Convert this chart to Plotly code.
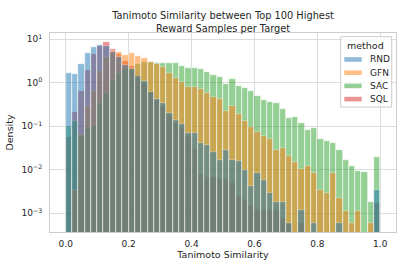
import plotly.graph_objects as go

# ---- data (density per bin, 50 bins of width 0.02 on [0, 1]) ----
BIN_START = 0.0
BIN_WIDTH = 0.02
methods = ["RND", "GFN", "SAC", "SQL"]

rnd = [1.65, 1.6, 2.7, 4.8, 6.6, 7.5, 6.9, 5.1, 4.0, 2.6,
       2.1, 1.4, 1.08, 0.6, 0.43, 0.35, 0.2, 0.14, 0.115, 0.07,
       0.07, 0.042, 0.038, 0.025, 0.017, 0.029, 0.017, 0.016, 0.0098, 0.0042,
       0.0085, 0.0059, 0.003, 0.0018, 0.0018, 0.0006, None, 0.0012, None, 0.0006,
       None, None, None, 0.0006, None, None, None, None, None, 0.0035]

gfn = [None, 0.0035, 0.065, 0.3, 0.65, 1.87, 4.0, 5.5, 5.1, 4.4,
       4.8, 4.1, 3.65, 3.0, 2.7, 2.27, 1.7, 1.3, 1.03, 0.8,
       0.8, 0.72, 0.58, 0.47, 0.43, 0.23, 0.30, 0.19, 0.13, 0.096,
       0.074, 0.059, 0.051, 0.029, 0.031, 0.021, 0.015, 0.0104, 0.0125, 0.0083,
       0.0035, 0.0029, 0.0083, 0.0023, 0.00115, 0.0006, 0.00115, None, 0.0006, None]

sac = [0.1, 0.135, 0.06, 0.093, 0.1, 0.35, 0.59, 1.16, 1.65, 2.05,
       2.2, 2.75, 3.0, 2.96, 2.9, 2.9, 2.8, 2.8, 2.46, 2.2,
       2.2, 2.1, 1.78, 1.53, 1.36, 0.93, 1.22, 0.86, 0.76, 0.64,
       0.5, 0.4, 0.36, 0.35, 0.25, 0.155, 0.16, 0.12, 0.083, 0.09,
       0.051, 0.045, 0.042, 0.029, 0.017, 0.012, 0.0095, 0.009, 0.0018, 0.0195]

sql = [0.058, 0.21, 0.66, 2.0, 4.5, 7.0, 8.5, 6.1, 4.5, 3.2,
       2.5, 1.5, 1.0, 0.6, 0.4, 0.3, 0.18, 0.12, 0.09, 0.06,
       0.03, 0.008, 0.007, 0.007, 0.006, 0.006, 0.005, 0.0025, 0.002, 0.0015,
       0.0012, 0.0012, 0.0012, 0.0012, 0.0008, 0.0006, None, 0.0006, None, None,
       None, None, None, None, None, None, None, None, None, 0.0017]

colors = {"RND": "#1f77b4", "GFN": "#ff7f0e", "SAC": "#2ca02c", "SQL": "#d62728"}
series = {"RND": rnd, "GFN": gfn, "SAC": sac, "SQL": sql}

y_ticks = [1e-3, 1e-2, 1e-1, 1e0, 1e1]
y_ticktext = ["10<sup>\u22123</sup>", "10<sup>\u22122</sup>", "10<sup>\u22121</sup>",
              "10<sup>0</sup>", "10<sup>1</sup>"]
x_ticks = [0.0, 0.2, 0.4, 0.6, 0.8, 1.0]

centers = [BIN_START + (i + 0.5) * BIN_WIDTH for i in range(len(rnd))]

fig = go.Figure()
# seaborn draws hue levels in reverse order (first level on top)
for m in reversed(methods):
    fig.add_trace(go.Bar(
        x=centers, y=series[m], width=BIN_WIDTH, name=m,
        marker=dict(color=colors[m], line=dict(color="white", width=0.6)),
        opacity=0.5, showlegend=False,
    ))

# ---- legend drawn as paper-anchored box (matplotlib-style) ----
W, H, L, T = 407, 271, 50, 33
PW, PH = W - L - 11, H - T - 39


def px(x):
    return (x - L) / PW


def py(y):
    return (T + PH - y) / PH


shapes = [dict(type="rect", xref="paper", yref="paper",
               x0=px(340.7), x1=px(391.7), y0=py(107), y1=py(36.7),
               fillcolor="rgba(255,255,255,0.8)", line=dict(color="#cccccc", width=1),
               layer="above")]
annotations = [dict(text="method", xref="paper", yref="paper", x=px(365.5), y=py(45),
                    xanchor="center", yanchor="middle", showarrow=False,
                    font=dict(size=9.5, color="#262626"))]
for k, m in enumerate(methods):
    cy = 59.5 + k * 13.2
    shapes.append(dict(type="rect", xref="paper", yref="paper",
                       x0=px(344.3), x1=px(361.7), y0=py(cy + 2.3), y1=py(cy - 2.3),
                       fillcolor=colors[m], opacity=0.5, line=dict(width=0),
                       layer="above"))
    annotations.append(dict(text=m, xref="paper", yref="paper", x=px(368), y=py(cy),
                            xanchor="left", yanchor="middle", showarrow=False,
                            font=dict(size=9, color="#262626")))

FONT = "DejaVu Sans"
fig.update_layout(
    width=W, height=H,
    margin=dict(l=L, r=11, t=T, b=39, autoexpand=False),
    barmode="overlay", bargap=0,
    paper_bgcolor="white", plot_bgcolor="white",
    font=dict(family=FONT, size=9, color="#262626"),
    title=dict(text="Tanimoto Similarity between Top 100 Highest<br>Reward Samples per Target",
               x=0.548, xanchor="center", y=0.93, yanchor="middle",
               font=dict(size=9.8, color="#262626")),
    shapes=shapes, annotations=annotations,
    showlegend=False,
)
fig.update_xaxes(
    range=[-0.05, 1.05], tickvals=x_ticks, ticktext=[f"{v:.1f}" for v in x_ticks],
    showgrid=True, gridcolor="#dcdcdc", gridwidth=1,
    showline=True, linecolor="#cccccc", linewidth=1, mirror=True,
    zeroline=False, ticks="", ticklen=0, ticklabelstandoff=3, automargin=False,
    title=dict(text="Tanimoto Similarity", font=dict(size=9.5), standoff=2),
)
fig.update_yaxes(
    type="log", range=[-3.43, 1.145], tickvals=y_ticks, ticktext=y_ticktext,
    showgrid=True, gridcolor="#dcdcdc", gridwidth=1,
    showline=True, linecolor="#cccccc", linewidth=1, mirror=True,
    zeroline=False, ticks="", ticklen=0, ticklabelstandoff=5, automargin=False,
    title=dict(text="Density", font=dict(size=9.5), standoff=6),
)

fig.write_html("out.html", config={"displayModeBar": False},
               post_script="document.body.style.margin='0';")
